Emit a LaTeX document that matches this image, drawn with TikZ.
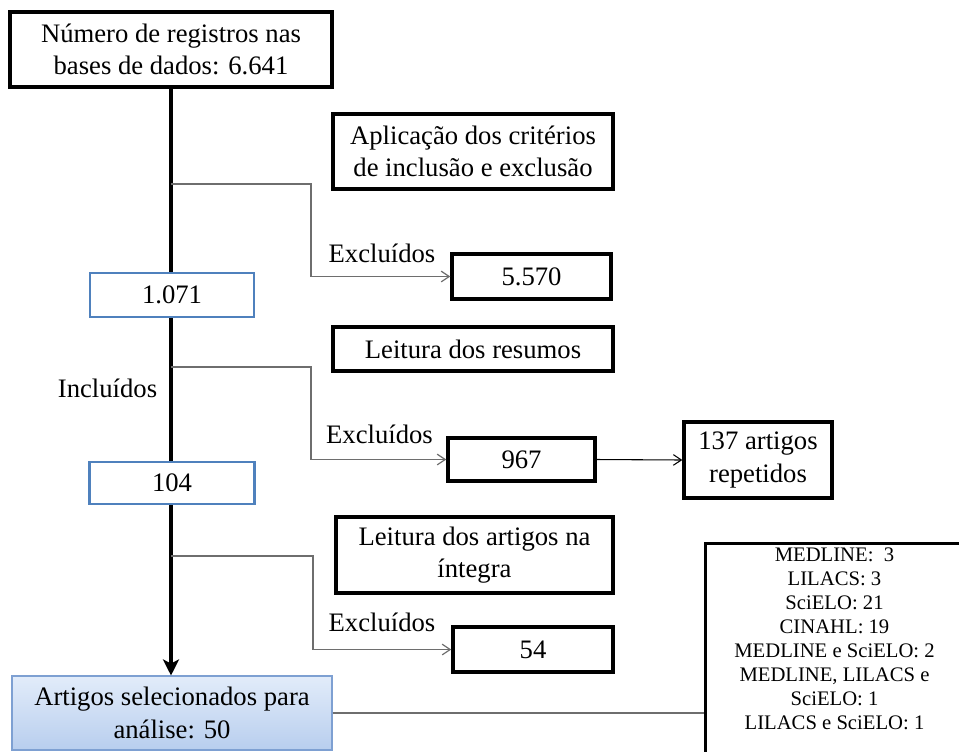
\documentclass[tikz,border=0pt]{standalone}
\usepackage{fontspec}
\setmainfont{Liberation Serif}
\usetikzlibrary{arrows.meta}
\definecolor{officeblue}{RGB}{79,129,189}
\definecolor{fintop}{RGB}{226,236,250}
\definecolor{finbot}{RGB}{184,206,238}
\definecolor{finborder}{RGB}{126,160,210}
\definecolor{branchgray}{RGB}{110,110,110}
\newcommand{\mainfs}{\fontsize{20}{24.5}\selectfont}
\tikzset{
  sz/.style 2 args={minimum width=#1*0.75pt,minimum height=#2*0.75pt},
  blk/.style={draw=black,line width=2.6pt,fill=white,inner sep=0pt,align=center,font=\mainfs},
  bluebox/.style={draw=officeblue,line width=2.1pt,fill=white,inner sep=0pt,align=center,font=\mainfs},
  finbox/.style={draw=finborder,line width=0.8pt,top color=fintop,bottom color=finbot,inner sep=0pt,align=center,font=\mainfs},
  mainline/.style={line width=2.4pt,-{Stealth[length=12pt,width=12pt,inset=3pt]}},
  branch/.style={draw=branchgray,line width=0.9pt,-{Straight Barb[length=6pt,width=8pt]}},
  plainline/.style={draw=branchgray,line width=0.9pt},
  lbl/.style={inner sep=0pt,anchor=base,font=\mainfs},
}
\begin{document}
\begin{tikzpicture}[x=0.75pt,y=-0.75pt]
\useasboundingbox (0,0) rectangle (959,751);
\clip (0,0) rectangle (959,751);
\fill[white] (0,0) rectangle (959,751);

% main vertical line
\node[blk,sz={322}{75}] (n1) at (171,49.5) {Número de registros nas\\bases de dados: 6.641};
\node[finbox,sz={320}{74}] (f) at (172,713) {Artigos selecionados para\\análise: 50};
\draw[mainline] (n1.south) -- (n1.south |- f.north);

% boxes on main line
\node[bluebox,sz={164}{44}] (i1) at (172,295) {1.071};
\node[bluebox,sz={165}{42}] (i2) at (172,483) {104};

% criteria boxes
\node[blk,sz={280}{75}] (c1) at (473,151.5) {Aplicação dos critérios\\de inclusão e exclusão};
\node[blk,sz={280}{44}] (c2) at (473,349) {Leitura dos resumos};
\node[blk,sz={277}{76}] (c3) at (474.5,555) {Leitura dos artigos na\\íntegra};

% excluded boxes
\node[blk,sz={159}{45}] (e1) at (531.5,276.5) {5.570};
\node[blk,sz={147}{43}] (e2) at (521.5,459.5) {967};
\node[blk,sz={160}{45}] (e3) at (533,649.5) {54};
\node[blk,sz={148}{76}] (r) at (758,460) {137 artigos\\repetidos};

% branches
\coordinate (b1) at (171,184); \coordinate (k1) at (311,184);
\coordinate (b2) at (171,367); \coordinate (k2) at (311,367);
\coordinate (b3) at (171,556); \coordinate (k3) at (313,556);
\draw[branch] (b1) -- (k1) |- (e1.west);
\draw[branch] (b2) -- (k2) |- (e2.west);
\draw[branch] (b3) -- (k3) |- (e3.west);
\draw[draw=black,line width=0.8pt,-{Straight Barb[length=6pt,width=8pt]}] (e2.east) -- (r.west);

% labels
\node[lbl] (x1) at (382,262) {Excluídos};
\node[lbl] (x2) at (379.5,443) {Excluídos};
\node[lbl] (x3) at (382,631) {Excluídos};
\node[lbl] (inc) at (107.5,397) {Incluídos};

% database box (runs off the page)
\node[draw=black,line width=2.6pt,fill=white,inner sep=0pt,anchor=north west,sz={261}{260}] (db) at (704,542) {};
\node[inner sep=0pt,anchor=north,align=center,font=\fontsize{15.5}{18}\selectfont] (dbt) at (834.5,548)
  {MEDLINE:\ \ 3\\LILACS: 3\\SciELO: 21\\CINAHL: 19\\MEDLINE e SciELO: 2\\MEDLINE, LILACS e\\SciELO: 1\\LILACS e SciELO: 1};
\draw[plainline] (f.east) -- (f.east -| db.west);
\end{tikzpicture}
\end{document}
